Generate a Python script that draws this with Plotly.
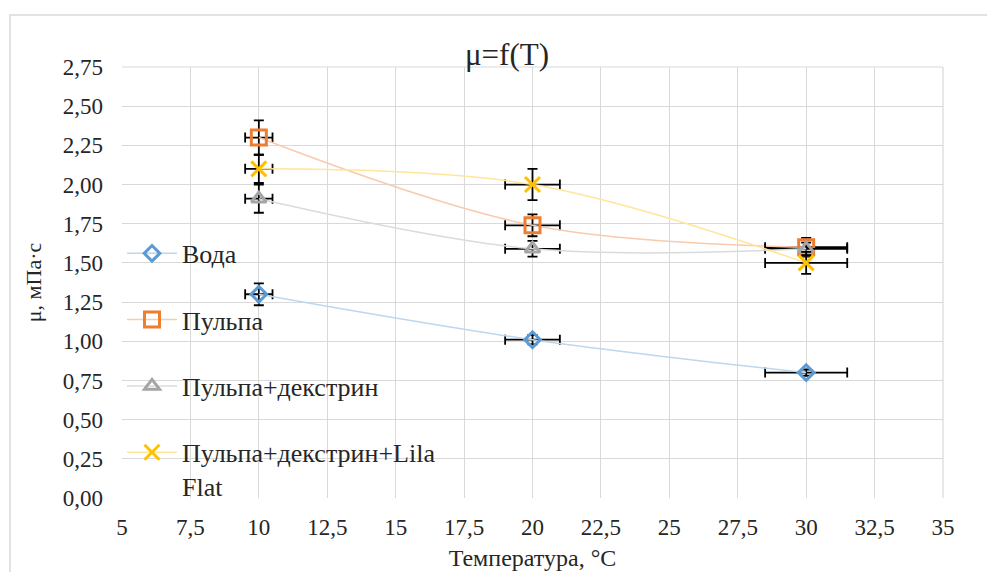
import plotly.graph_objects as go

temps = [10, 20, 30]
t_err = [0.5, 1.0, 1.5]

names = ["Вода", "Пульпа", "Пульпа+декстрин", "Пульпа+декстрин+Lila<br>Flat"]
voda = [1.30, 1.01, 0.80]
voda_err = [0.07, 0.03, 0.02]
pulpa = [2.30, 1.74, 1.60]
pulpa_err = [0.11, 0.07, 0.06]
pulpa_dex = [1.91, 1.59, 1.59]
pulpa_dex_err = [0.09, 0.05, 0.04]
pulpa_dex_lila = [2.10, 2.00, 1.50]
pulpa_dex_lila_err = [0.09, 0.10, 0.07]

x_ticks = [5, 7.5, 10, 12.5, 15, 17.5, 20, 22.5, 25, 27.5, 30, 32.5, 35]
y_ticks = [0, 0.25, 0.5, 0.75, 1.0, 1.25, 1.5, 1.75, 2.0, 2.25, 2.5, 2.75]

series = [
    (names[0], voda, voda_err, "#BDD7EE", "#5B9BD5", "diamond-open", 12),
    (names[1], pulpa, pulpa_err, "#F8CBAD", "#ED7D31", "square-open", 15),
    (names[2], pulpa_dex, pulpa_dex_err, "#DBDBDB", "#A5A5A5", "triangle-up-open", 13),
    (names[3], pulpa_dex_lila, pulpa_dex_lila_err, "#FFE699", "#FFC000", "x-thin-open", 15),
]

fig = go.Figure()
for i, (nm, ys, ye, lc, mc, sym, sz) in enumerate(series):
    fig.add_trace(go.Scatter(
        x=temps, y=ys, name=nm, mode="lines+markers",
        legendgroup=f"g{i}",
        line=dict(color=lc, width=1.5, shape="spline", smoothing=1.0),
        marker=dict(symbol=sym, size=sz, color=mc, line=dict(color=mc, width=3)),
        error_y=dict(type="data", array=ye, visible=True, color="black", thickness=1.8, width=5),
        error_x=dict(type="data", array=t_err, visible=True, color="black", thickness=1.8, width=5),
    ))

font_serif = "Liberation Serif, Times New Roman, serif"

fig.update_layout(
    width=987, height=564,
    margin=dict(l=114, r=52, t=59, b=74),
    paper_bgcolor="white", plot_bgcolor="white",
    separators=", ",
    font=dict(family=font_serif, size=23, color="#262626"),
    title=dict(text="μ=f(T)", x=(507 - 8) / 987, xanchor="center", y=1 - 46 / 564, yanchor="middle",
               yref="container", font=dict(family=font_serif, size=31, color="#262626")),
    showlegend=True,
    legend=dict(x=0.0, xanchor="left", y=0.622, yanchor="top", bgcolor="rgba(0,0,0,0)",
                font=dict(family=font_serif, size=26, color="#262626"),
                tracegroupgap=29.5, itemwidth=50, valign="top"),
    xaxis=dict(range=[5, 35], tickvals=x_ticks, showgrid=True, gridcolor="#D9D9D9", gridwidth=1.2,
               zeroline=False, showline=False, ticks="", ticklabelstandoff=13, automargin=False,
               title=dict(text="Температура, °C", font=dict(family=font_serif, size=24), standoff=10),
               tickfont=dict(family=font_serif, size=23)),
    yaxis=dict(range=[0, 2.75], tickvals=y_ticks, tickformat=".2f", showgrid=True, gridcolor="#D9D9D9",
               gridwidth=1.2, zeroline=False, showline=False, ticks="", ticklabelstandoff=18,
               automargin=False,
               title=dict(text="μ, мПа·с", font=dict(family=font_serif, size=22), standoff=15),
               tickfont=dict(family=font_serif, size=23)),
    shapes=[
        dict(type="rect", xref="paper", yref="paper", x0=-0.1364, x1=1.08, y0=-0.25, y1=1.1206,
             line=dict(color="#D9D9D9", width=1.5), fillcolor="rgba(0,0,0,0)", layer="below"),
        dict(type="line", xref="paper", yref="paper", x0=1, x1=1, y0=0, y1=1,
             line=dict(color="#D9D9D9", width=1.2), layer="below"),
        dict(type="line", xref="paper", yref="paper", x0=0, x1=1, y0=1, y1=1,
             line=dict(color="#D9D9D9", width=1.2), layer="below"),
    ],
)

fig.write_html("out.html")
